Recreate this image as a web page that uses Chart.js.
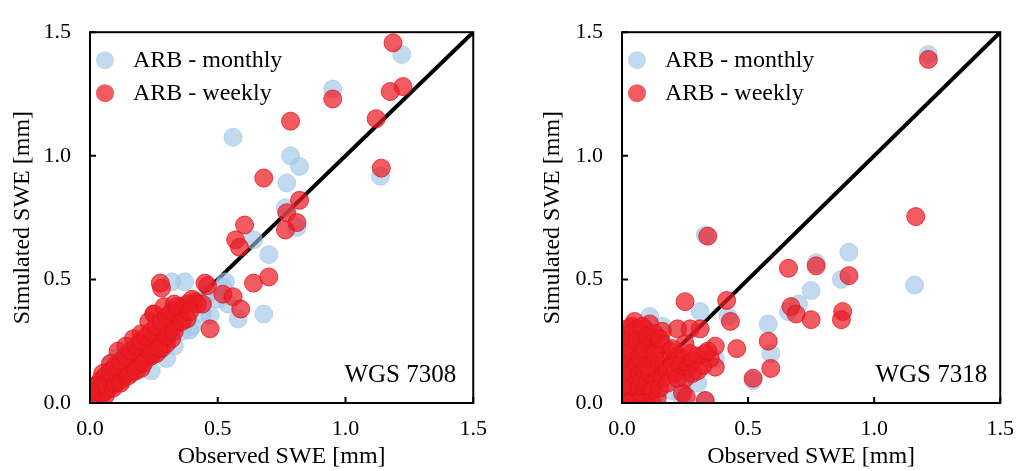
<!DOCTYPE html>
<html>
<head>
<meta charset="utf-8">
<script src="https://cdn.jsdelivr.net/npm/chart.js@4.4.1/dist/chart.umd.min.js"></script>
<style>
  html, body { margin: 0; padding: 0; background: #ffffff; }
  body { width: 1027px; height: 471px; position: relative; overflow: hidden; }
  .box { position: absolute; top: 0; height: 471px; }
  #b1 { left: 0; width: 500px; }
  #b2 { left: 520px; width: 507px; }
</style>
</head>
<body>
<div class="box" id="b1"><canvas id="c1"></canvas></div>
<div class="box" id="b2"><canvas id="c2"></canvas></div>
<script>
// ---- data ----
const seriesLabels = ['ARB - monthly', 'ARB - weekly'];
const stationNames = ['WGS 7308', 'WGS 7318'];
const axisTicks = [0.0, 0.5, 1.0, 1.5];
const oneToOne = [[0, 0], [1.5, 1.5]];

// WGS 7308 [observed, simulated]
const wgs7308Monthly = [
  [1.22,1.41],[0.95,1.27],[0.56,1.075],[0.785,1.00],[0.82,0.957],[0.77,0.89],[1.137,0.917],
  [0.81,0.71],[0.765,0.79],[0.64,0.66],[0.70,0.60],[0.37,0.49],[0.32,0.49],[0.53,0.49],
  [0.68,0.36],[0.47,0.355],[0.58,0.34],[0.39,0.295],[0.54,0.40],[0.44,0.40],
  [0.01,0.01],[0.02,0.03],[0.03,0.02],[0.04,0.05],[0.05,0.03],[0.06,0.06],[0.07,0.05],
  [0.08,0.09],[0.09,0.07],[0.10,0.12],[0.11,0.09],[0.12,0.12],[0.13,0.10],[0.14,0.14],
  [0.15,0.12],[0.16,0.17],[0.17,0.13],[0.18,0.18],[0.19,0.15],[0.20,0.20],[0.21,0.17],
  [0.22,0.22],[0.24,0.13],[0.24,0.19],[0.25,0.24],[0.27,0.21],[0.28,0.27],[0.30,0.18],
  [0.30,0.25],[0.32,0.30],[0.33,0.23],[0.35,0.33],[0.36,0.29],[0.38,0.37],[0.40,0.31],
  [0.42,0.41],[0.44,0.36],[0.46,0.44],[0.50,0.42],[0.52,0.47],[0.085,0.16],[0.10,0.18]
];
const wgs7308Weekly = [
  [1.186,1.457],[1.225,1.28],[1.175,1.26],[0.95,1.23],[1.12,1.15],[0.785,1.14],[1.14,0.95],
  [0.68,0.91],[0.82,0.82],[0.77,0.77],[0.81,0.73],[0.765,0.70],[0.605,0.72],[0.57,0.66],
  [0.585,0.63],[0.64,0.485],[0.70,0.51],[0.46,0.475],[0.52,0.44],[0.56,0.43],[0.59,0.38],
  [0.28,0.465],[0.275,0.485],[0.45,0.485],[0.47,0.30],[0.25,0.36],[0.41,0.41],[0.44,0.40],
  [0.01,0.01],[0.02,0.02],[0.02,0.04],[0.03,0.02],[0.03,0.05],[0.04,0.03],[0.04,0.06],
  [0.05,0.04],[0.05,0.07],[0.06,0.05],[0.06,0.08],[0.07,0.06],[0.07,0.10],[0.08,0.07],
  [0.08,0.11],[0.09,0.09],[0.10,0.08],[0.10,0.12],[0.11,0.10],[0.12,0.13],[0.12,0.09],
  [0.13,0.15],[0.14,0.12],[0.14,0.17],[0.15,0.14],[0.16,0.16],[0.16,0.12],[0.17,0.19],
  [0.18,0.15],[0.18,0.20],[0.19,0.17],[0.20,0.19],[0.20,0.14],[0.21,0.22],[0.22,0.18],
  [0.22,0.24],[0.23,0.21],[0.24,0.26],[0.24,0.19],[0.25,0.23],[0.26,0.28],[0.26,0.20],
  [0.27,0.25],[0.28,0.30],[0.28,0.22],[0.29,0.27],[0.30,0.33],[0.30,0.24],[0.31,0.29],
  [0.32,0.35],[0.32,0.26],[0.33,0.31],[0.34,0.37],[0.35,0.33],[0.36,0.39],[0.38,0.40],
  [0.38,0.34],[0.40,0.42],[0.42,0.40],[0.05,0.12],[0.08,0.16],[0.11,0.21],[0.14,0.23],
  [0.17,0.26],[0.20,0.28],[0.23,0.33],[0.25,0.36],[0.29,0.39],[0.33,0.40],
  [0.02,0.07],[0.04,0.09],[0.06,0.11],[0.08,0.13],[0.10,0.15],[0.12,0.17],[0.14,0.19],
  [0.16,0.21],[0.18,0.23],[0.20,0.25],[0.22,0.27],[0.24,0.29],[0.26,0.31],[0.28,0.33],
  [0.30,0.35],[0.32,0.37],[0.34,0.39],[0.06,0.03],[0.09,0.06],[0.12,0.08],[0.15,0.11],
  [0.18,0.13],[0.21,0.16],[0.24,0.20],[0.27,0.22],[0.30,0.27],[0.33,0.29],[0.36,0.33],
  [0.39,0.37],[0.00,0.02],[0.01,0.04],[0.03,0.07],[0.00,0.05]
];

// WGS 7318 [observed, simulated]
const wgs7318Monthly = [
  [1.215,1.41],[1.16,0.477],[0.90,0.61],[0.87,0.50],[0.77,0.567],[0.75,0.455],[0.70,0.40],
  [0.66,0.37],[0.58,0.32],[0.59,0.20],[0.31,0.37],[0.42,0.35],[0.33,0.68],[0.24,0.065],
  [0.24,0.01],[0.33,0.01],[0.11,0.35],[0.16,0.31],[0.37,0.18],[0.52,0.09],[0.00,0.09],
  [0.02,0.05],[0.04,0.20],[0.06,0.12],[0.08,0.28],[0.10,0.06],[0.12,0.22],[0.14,0.04],
  [0.18,0.10],[0.20,0.05],[0.26,0.12],[0.30,0.08],[0.01,0.30],[0.03,0.01]
];
const wgs7318Weekly = [
  [1.215,1.39],[1.165,0.754],[0.66,0.545],[0.77,0.555],[0.90,0.515],[0.67,0.39],[0.69,0.36],
  [0.75,0.337],[0.875,0.37],[0.87,0.337],[0.58,0.25],[0.59,0.14],[0.34,0.675],[0.25,0.41],
  [0.415,0.415],[0.43,0.33],[0.52,0.10],[0.455,0.22],[0.37,0.23],[0.37,0.145],[0.24,0.04],
  [0.33,0.01],[0.31,0.30],[0.22,0.30],[0.27,0.30],[0.25,0.24],[0.35,0.18],[0.33,0.20],
  [0.255,0.025],
  [0.01,0.00],[0.01,0.03],[0.01,0.06],[0.01,0.10],[0.01,0.15],[0.02,0.02],[0.02,0.08],
  [0.02,0.13],[0.02,0.20],[0.02,0.25],[0.03,0.00],[0.03,0.05],[0.03,0.11],[0.03,0.17],
  [0.03,0.28],[0.04,0.02],[0.04,0.08],[0.04,0.14],[0.04,0.22],[0.05,0.33],[0.05,0.00],
  [0.05,0.05],[0.05,0.12],[0.05,0.18],[0.05,0.26],[0.06,0.03],[0.06,0.09],[0.06,0.15],
  [0.06,0.21],[0.07,0.00],[0.07,0.06],[0.07,0.12],[0.07,0.29],[0.08,0.02],[0.08,0.09],
  [0.08,0.17],[0.08,0.24],[0.09,0.05],[0.09,0.13],[0.09,0.30],[0.10,0.00],[0.10,0.08],
  [0.10,0.20],[0.11,0.32],[0.11,0.04],[0.11,0.12],[0.12,0.16],[0.12,0.26],[0.13,0.08],
  [0.14,0.12],[0.14,0.22],[0.15,0.15],[0.16,0.29],[0.16,0.10],[0.17,0.18],[0.18,0.13],
  [0.19,0.21],[0.20,0.16],[0.21,0.12],[0.22,0.19],[0.23,0.15],[0.24,0.18],[0.26,0.14],
  [0.27,0.20],[0.28,0.17],[0.30,0.19],[0.32,0.15],[0.34,0.21],
  [0.00,0.02],[0.00,0.07],[0.00,0.12],[0.00,0.18],[0.00,0.23],[0.01,0.20],[0.01,0.26],
  [0.02,0.30],[0.03,0.22],[0.04,0.26],[0.04,0.31],[0.06,0.30],[0.06,0.25],[0.07,0.19],
  [0.08,0.31],[0.09,0.22],[0.10,0.27],[0.10,0.15],[0.12,0.00],[0.12,0.05],[0.13,0.20],
  [0.14,0.02],[0.15,0.06],[0.09,0.00],[0.06,0.00],[0.02,0.00],[0.16,0.24],[0.18,0.08],
  [0.13,0.28],[0.15,0.26],[0.20,0.22],[0.22,0.10],[0.25,0.10],[0.28,0.12],[0.30,0.13]
];

// ---- styling ----
const SERIF = '"Liberation Serif", "Times New Roman", serif';
const BLUE = 'rgba(157,195,230,0.62)';
const BLUE_B = 'rgba(157,195,230,0.62)';
const RED = 'rgba(236,28,36,0.72)';
const RED_B = 'rgba(220,20,30,0.75)';

function toXY(arr) { return arr.map(p => ({ x: p[0], y: p[1] })); }

const framePlugin = {
  id: 'frame',
  afterDatasetsDraw(chart, args, opts) {
    const ctx = chart.ctx, a = chart.chartArea;
    const xs = chart.scales.x, ys = chart.scales.y;
    ctx.save();
    ctx.strokeStyle = '#000';
    ctx.lineWidth = 2;
    ctx.strokeRect(a.left, a.top, a.right - a.left, a.bottom - a.top);
    ctx.beginPath();
    axisTicks.forEach(v => {
      const px = xs.getPixelForValue(v);
      ctx.moveTo(px, a.bottom); ctx.lineTo(px, a.bottom - 6);
      const py = ys.getPixelForValue(v);
      ctx.moveTo(a.left, py); ctx.lineTo(a.left + 6, py);
    });
    ctx.stroke();
    // station label
    ctx.fillStyle = '#000';
    ctx.font = '25px ' + SERIF;
    ctx.textAlign = 'right';
    ctx.textBaseline = 'alphabetic';
    ctx.fillText(opts.station, a.right - opts.stationDx, a.bottom - 21);
    // legend
    ctx.font = '24px ' + SERIF;
    const items = chart.data.datasets.filter(d => d.legend);
    items.forEach((d, i) => {
      const cy = a.top + 28 + i * 33;
      const cx = a.left + 15;
      ctx.beginPath();
      ctx.arc(cx, cy, 9, 0, Math.PI * 2);
      ctx.fillStyle = d.backgroundColor;
      ctx.fill();
      ctx.fillStyle = '#000';
      ctx.textAlign = 'left';
      ctx.textBaseline = 'middle';
      ctx.fillText(d.label, a.left + 43, cy + 1);
    });
    ctx.restore();
  }
};

function makeChart(id, monthly, weekly, station, pad, yWidth, stationDx, yTitleTop) {
  return new Chart(document.getElementById(id), {
    type: 'scatter',
    data: {
      datasets: [
        { label: '1:1', data: toXY(oneToOne), showLine: true, borderColor: '#000',
          borderWidth: 4, pointRadius: 0, order: 3, legend: false },
        { label: seriesLabels[0], data: toXY(monthly), backgroundColor: BLUE,
          borderColor: BLUE_B, borderWidth: 1, pointRadius: 9, order: 2, legend: true },
        { label: seriesLabels[1], data: toXY(weekly), backgroundColor: RED,
          borderColor: RED_B, borderWidth: 1, pointRadius: 9, order: 1, legend: true }
      ]
    },
    options: {
      responsive: true,
      maintainAspectRatio: false,
      animation: false,
      events: [],
      layout: { padding: pad },
      plugins: {
        legend: { display: false },
        tooltip: { enabled: false },
        frame: { station: station, stationDx: stationDx }
      },
      scales: {
        x: {
          type: 'linear', min: 0, max: 1.5,
          afterBuildTicks: s => { s.ticks = axisTicks.map(v => ({ value: v })); },
          grid: { display: false, drawTicks: false },
          border: { display: false },
          ticks: { color: '#000', font: { family: SERIF, size: 22 }, padding: 13,
                   callback: v => Number(v).toFixed(1) },
          title: { display: true, text: 'Observed SWE [mm]', color: '#000',
                   font: { family: SERIF, size: 24 }, padding: { top: 3, bottom: 0 } },
          afterFit: s => { s.height = 68; }
        },
        y: {
          type: 'linear', min: 0, max: 1.5,
          afterBuildTicks: s => { s.ticks = axisTicks.map(v => ({ value: v })); },
          grid: { display: false, drawTicks: false },
          border: { display: false },
          ticks: { color: '#000', font: { family: SERIF, size: 22 }, padding: 19,
                   callback: v => Number(v).toFixed(1) },
          title: { display: true, text: 'Simulated SWE [mm]', color: '#000',
                   font: { family: SERIF, size: 24 }, padding: { top: yTitleTop, bottom: 2 } },
          afterFit: s => { s.width = yWidth; }
        }
      }
    },
    plugins: [framePlugin]
  });
}

makeChart('c1', wgs7308Monthly, wgs7308Weekly, stationNames[0],
  { top: 22, right: 18, bottom: 0, left: 0 }, 90, 17, 8);
makeChart('c2', wgs7318Monthly, wgs7318Weekly, stationNames[1],
  { top: 25, right: 16, bottom: 0, left: 0 }, 102, 13, 18);
</script>
</body>
</html>
